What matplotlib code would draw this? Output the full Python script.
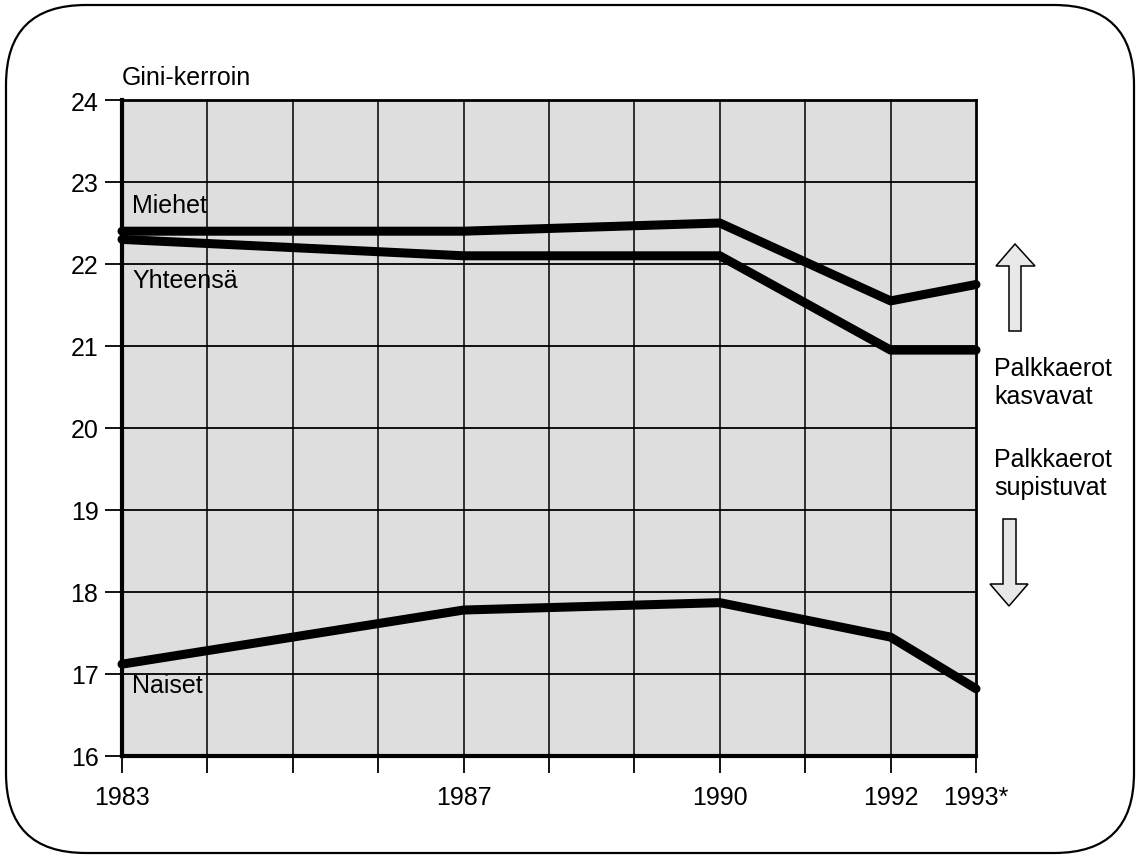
import matplotlib
matplotlib.use("Agg")
import matplotlib.pyplot as plt
from matplotlib.patches import FancyBboxPatch, Polygon

plt.rcParams['font.family'] = ['Liberation Sans', 'DejaVu Sans']

years = [1983, 1987, 1990, 1992, 1993]
tick_labels = ['1983', '1987', '1990', '1992', '1993*']
miehet = [22.4, 22.4, 22.5, 21.55, 21.75]
yhteensa = [22.3, 22.1, 22.1, 20.95, 20.95]
naiset = [17.12, 17.78, 17.87, 17.45, 16.82]

W, H = 1140, 862
fig = plt.figure(figsize=(W / 100, H / 100), dpi=100)
fig.patch.set_facecolor('white')

# rounded frame
frame = FancyBboxPatch((6 / W, 8 / H), (W - 12) / W, (H - 14) / H,
                       boxstyle="round,pad=0,rounding_size=0.07",
                       transform=fig.transFigure, fill=False,
                       edgecolor='black', linewidth=1.6,
                       mutation_aspect=W / H)
fig.add_artist(frame)

ax = fig.add_axes([122 / W, 1 - 757 / H, (976 - 122) / W, (757 - 101) / H])
ax.set_facecolor('#dedede')
ax.set_xlim(1983, 1993)
ax.set_ylim(16, 24)

for yr in range(1984, 1993):
    ax.axvline(yr, color='black', lw=1.1, zorder=1)
for v in range(17, 24):
    ax.axhline(v, color='black', lw=1.3, zorder=1)

lw = 6.5
for series in (miehet, yhteensa, naiset):
    ax.plot(years, series, color='black', lw=lw, solid_capstyle='round',
            solid_joinstyle='round', zorder=3, clip_on=False)

ax.set_xticks(list(range(1983, 1994)))
ax.set_xticklabels([tick_labels[years.index(y)] if y in years else '' for y in range(1983, 1994)])
ax.set_yticks(range(16, 25))
ax.set_yticklabels([str(v) for v in range(16, 25)])
ax.tick_params(axis='both', direction='out', length=12, width=1.3, labelsize=18, color='black')
ax.tick_params(axis='x', pad=9)
ax.tick_params(axis='y', pad=5)

for side in ['left', 'bottom']:
    ax.spines[side].set_linewidth(3)
for side in ['top', 'right']:
    ax.spines[side].set_linewidth(2)

fs = 18
ax.text(1983.12, 22.72, 'Miehet', fontsize=fs, va='center', ha='left', zorder=4)
ax.text(1983.12, 21.8, 'Yhteensä', fontsize=fs, va='center', ha='left', zorder=4)
ax.text(1983.12, 16.87, 'Naiset', fontsize=fs, va='center', ha='left', zorder=4)

fig.text(122 / W, 1 - 78 / H, 'Gini-kerroin', fontsize=fs, ha='left', va='center')
fig.text(994 / W, 1 - 383 / H, 'Palkkaerot\nkasvavat', fontsize=fs, ha='left', va='center', linespacing=1.2)
fig.text(994 / W, 1 - 474 / H, 'Palkkaerot\nsupistuvat', fontsize=fs, ha='left', va='center', linespacing=1.2)


def px_poly(points):
    return [(x / W, 1 - y / H) for x, y in points]


up = [(1009, 332), (1021, 332), (1021, 267), (1035, 267), (1015, 245),
      (996, 267), (1009, 267)]
down = [(1003, 520), (1016, 520), (1016, 585), (1028, 585), (1009, 607),
        (990, 585), (1003, 585)]
for pts in (up, down):
    fig.add_artist(Polygon(px_poly(pts), closed=True, transform=fig.transFigure,
                           facecolor='#e8e8e8', edgecolor='black', linewidth=1.1))

fig.savefig('out.png', dpi=100)
